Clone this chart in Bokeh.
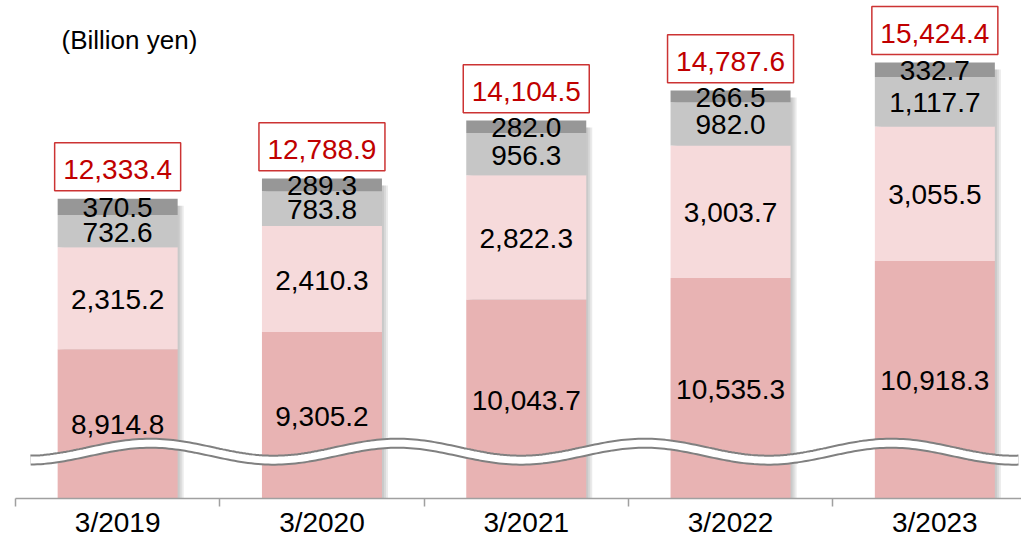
import numpy as np
from bokeh.plotting import figure
from bokeh.models import Range1d, FixedTicker, Label, ColumnDataSource
from bokeh.core.properties import value
from bokeh.embed import file_html
from bokeh.resources import INLINE

# ---- data ----
years = ["3/2019", "3/2020", "3/2021", "3/2022", "3/2023"]
seg_bottom = [8914.8, 9305.2, 10043.7, 10535.3, 10918.3]
seg_second = [2315.2, 2410.3, 2822.3, 3003.7, 3055.5]
seg_third = [732.6, 783.8, 956.3, 982.0, 1117.7]
seg_top = [370.5, 289.3, 282.0, 266.5, 332.7]
totals = [12333.4, 12788.9, 14104.5, 14787.6, 15424.4]
unit_label = "(Billion yen)"

colors = ["#E8B3B3", "#F6DADB", "#C6C6C6", "#979797"]

# ---- layout ----
W, H = 1021, 540
frame_left, frame_bottom_px = 15, 500
cat_px = 204.3
y_start = 5530.0
upp = 22.6  # data units per pixel vertically
x_start = -0.5
x_end = x_start + (W - frame_left) / cat_px
y_end = y_start + frame_bottom_px * upp
dx = 1.0 / cat_px  # data units per pixel horizontally
FONT = value("Liberation Sans")

p = figure(width=W, height=H, x_range=Range1d(x_start, x_end), y_range=Range1d(y_start, y_end),
           output_backend="svg", toolbar_location=None, y_axis_location=None,
           min_border_left=frame_left, min_border_right=0, min_border_top=0, min_border_bottom=H - frame_bottom_px)
p.grid.visible = False
p.outline_line_color = None
p.background_fill_color = "white"

xs = np.arange(len(years), dtype=float)
bar_w = 120 / cat_px
segs = [seg_bottom, seg_second, seg_third, seg_top]
tops = np.cumsum(np.array(segs), axis=0)
bottoms = np.vstack([np.zeros(len(years)), tops[:-1]])
stack_top = tops[-1]

# shadow
for k in (2, 4, 6):
    p.vbar(x=xs + k * dx, bottom=y_start - 1000, top=stack_top - 7 * upp, width=bar_w,
           fill_color="#7a7a7a", fill_alpha=0.16, line_color=None)

for i, seg in enumerate(segs):
    p.vbar(x=xs, bottom=bottoms[i], top=tops[i], width=bar_w, fill_color=colors[i], line_color=None)

# segment labels
for i, seg in enumerate(segs):
    lo = np.maximum(bottoms[i], y_start)
    mid = (lo + tops[i]) / 2
    src = ColumnDataSource(dict(x=xs, y=mid, t=["{:,.1f}".format(v) for v in seg]))
    p.text(x="x", y="y", text="t", source=src, text_align="center", text_baseline="middle",
           text_font_size="28px", text_font=FONT, text_color="black", y_offset=1)

# break wave (decoration)
wx_px = np.linspace(30, 1018, 300)
wy_px = 453 - 8.5 * np.cos((wx_px - 150) / 247 * 2 * np.pi)
wx = x_start + (wx_px - frame_left) * dx
wy = y_start + (frame_bottom_px - wy_px) * upp
p.line(wx, wy, line_color="#808080", line_width=11)
p.line(wx, wy, line_color="white", line_width=7)

# total boxes
box_y = np.array(totals) + 32 * upp
p.rect(x=xs, y=box_y, width=126, height=48, width_units="screen", height_units="screen",
       fill_color="white", line_color="#CC3333", line_width=1.5)
p.text(x=xs, y=box_y, text=["{:,.1f}".format(v) for v in totals], text_align="center",
       text_baseline="middle", text_font_size="28px", text_font=FONT, text_color="#C00000", y_offset=3)

# axis
ax = p.xaxis[0]
ax.ticker = FixedTicker(ticks=list(xs), minor_ticks=list(np.arange(len(years) + 1) - 0.5))
ax.major_label_overrides = {i: y for i, y in enumerate(years)}
ax.major_tick_out = 0
ax.major_tick_in = 0
ax.minor_tick_out = 8
ax.minor_tick_in = 0
ax.minor_tick_line_color = "#A0A0A0"
ax.axis_line_color = "#A0A0A0"
ax.axis_line_width = 1.5
ax.minor_tick_line_width = 1.5
ax.major_label_standoff = 0
ax.major_label_text_font_size = "28px"
ax.major_label_text_font = "Liberation Sans"
ax.major_label_text_color = "black"

p.add_layout(Label(x=46, y=frame_bottom_px - 41, x_units="screen", y_units="screen", text=unit_label,
                   text_font_size="26px", text_font="Liberation Sans", text_baseline="middle",
                   text_color="black"))

open("out.html", "w").write(file_html(p, INLINE))
